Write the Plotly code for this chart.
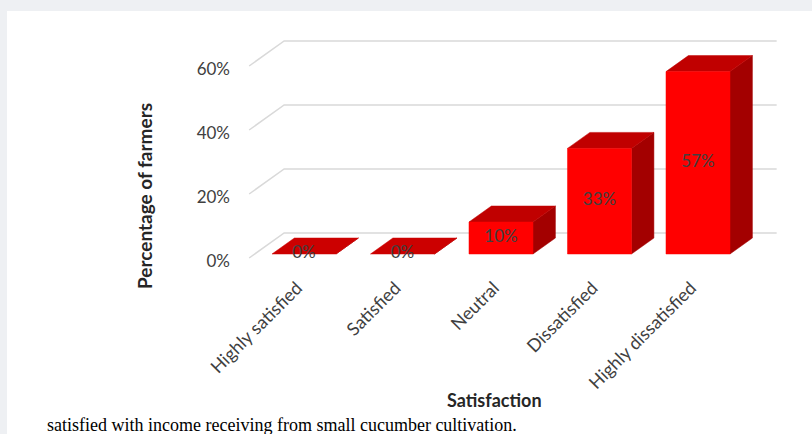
import plotly.graph_objects as go

# ---- data ----
categories = ["Highly satisfied", "Satisfied", "Neutral", "Dissatisfied", "Highly dissatisfied"]
values = [0, 0, 10, 33, 57]
value_labels = ["0%", "0%", "10%", "33%", "57%"]
y_tickvals = [0, 20, 40, 60]
y_ticktext = ["0%", "20%", "40%", "60%"]

# ---- layout geometry (pixels) ----
W, H = 812, 434
PL, PR = 240, 790          # plot area x in px
PT, PB = 30, 262           # plot area y in px
X0_PX = 298.4              # px of category 0 (floor coords)
X_STEP = 98.5              # px per category
Y0_PX = 258                # px of value 0 at floor front
Y_STEP = 3.2               # px per percent

xr = [(PL - X0_PX) / X_STEP, (PR - X0_PX) / X_STEP]
yr = [(Y0_PX - PB) / Y_STEP, (Y0_PX - PT) / Y_STEP]

# depth projection (data units) for depth fraction d (0 front, 1 back wall)
DX = 35 / X_STEP
DY = 25 / Y_STEP
D_FRONT, D_BACK = 0.16, 0.8
HW = 0.325  # half bar width
FLOOR = (-0.5, len(categories) - 0.5)


def P(x, v, d):
    return x + d * DX, v + d * DY


def px2paper_x(p):
    return (p - PL) / (PR - PL)


def px2paper_y(p):
    return (PB - p) / (PB - PT)


fig = go.Figure()

GRID = "#d9d9d9"
# walls / gridlines
for v in y_tickvals:
    a = P(FLOOR[0], v, 0)
    b = P(FLOOR[0], v, 1)
    c = P(FLOOR[1], v, 1)
    fig.add_trace(go.Scatter(x=[a[0], b[0], c[0]], y=[a[1], b[1], c[1]], mode="lines",
                             line=dict(color=GRID, width=1.5), hoverinfo="skip", showlegend=False))

FRONT, TOP, SIDE = "#ff0000", "#c00000", "#a30000"


def poly(pts, color):
    xs = [p[0] for p in pts] + [pts[0][0]]
    ys = [p[1] for p in pts] + [pts[0][1]]
    fig.add_trace(go.Scatter(x=xs, y=ys, mode="lines", fill="toself", fillcolor=color,
                             line=dict(color=color, width=0.5), hoverinfo="skip", showlegend=False))


for i, v in enumerate(values):
    l, r = i - HW, i + HW
    # side
    poly([P(r, 0, D_FRONT), P(r, 0, D_BACK), P(r, v, D_BACK), P(r, v, D_FRONT)], SIDE)
    # top
    poly([P(l, v, D_FRONT), P(r, v, D_FRONT), P(r, v, D_BACK), P(l, v, D_BACK)], TOP if v > 0 else "#cc0000")
    # front
    if v > 0:
        poly([P(l, 0, D_FRONT), P(r, 0, D_FRONT), P(r, v, D_FRONT), P(l, v, D_FRONT)], FRONT)

# value labels centred on the front face
lx = [P(i, v / 2, D_FRONT)[0] for i, v in enumerate(values)]
ly = [P(i, v / 2, D_FRONT)[1] for i, v in enumerate(values)]
fig.add_trace(go.Scatter(x=lx, y=ly, mode="text", text=value_labels,
                         textfont=dict(family="Lato", size=17, color="#404040"),
                         hoverinfo="skip", showlegend=False))

tick_x = [P(i, 0, D_FRONT)[0] for i in range(len(categories))]

fig.update_layout(
    width=W, height=H,
    margin=dict(l=PL, r=W - PR, t=PT, b=H - PB, pad=0),
    paper_bgcolor="#eef0f3",
    plot_bgcolor="rgba(0,0,0,0)",
    showlegend=False,
    font=dict(family="Lato", color="#404040"),
    xaxis=dict(range=xr, showgrid=False, zeroline=False, showline=False, ticks="",
               tickmode="array", tickvals=tick_x, ticktext=categories, tickangle=-45,
               tickfont=dict(size=18, color="#404040"), ticklabelstandoff=11, ticklabelshift=-7),
    yaxis=dict(range=yr, showgrid=False, zeroline=False, showline=False, ticks="",
               tickmode="array", tickvals=y_tickvals, ticktext=y_ticktext,
               tickfont=dict(size=17, color="#404040"), ticklabelstandoff=9, ticklabelshift=3),
    shapes=[dict(type="rect", xref="paper", yref="paper", layer="below",
                 x0=px2paper_x(7), x1=px2paper_x(W + 5), y0=px2paper_y(H + 5), y1=px2paper_y(11),
                 fillcolor="white", line=dict(width=0))],
    annotations=[
        dict(text="<b>Percentage of farmers</b>", xref="paper", yref="paper",
             x=px2paper_x(145), y=px2paper_y(196), textangle=-90, showarrow=False,
             xanchor="center", yanchor="middle", font=dict(family="Lato", size=19, color="#262626")),
        dict(text="<b>Satisfaction</b>", xref="paper", yref="paper",
             x=px2paper_x(494), y=px2paper_y(400), showarrow=False,
             xanchor="center", yanchor="middle", font=dict(family="Lato", size=18, color="#262626")),
        dict(text="satisfied with income receiving from small cucumber cultivation.", xref="paper", yref="paper",
             x=px2paper_x(45), y=px2paper_y(425), showarrow=False,
             xanchor="left", yanchor="middle", font=dict(family="Liberation Serif", size=18, color="#000000")),
    ],
)

fig.write_html("out.html")
